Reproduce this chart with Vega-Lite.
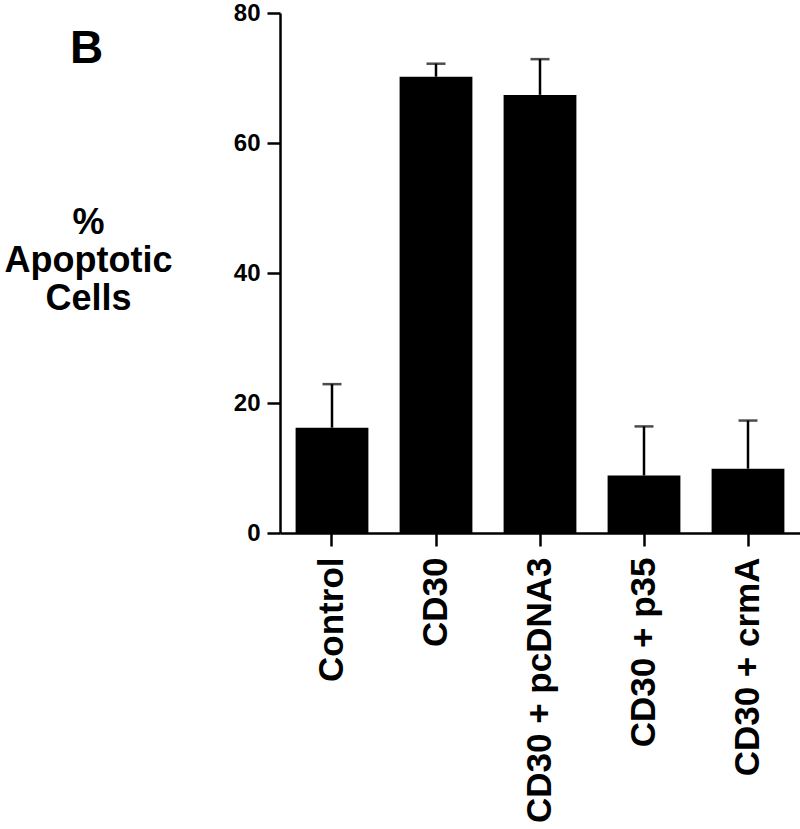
{
  "$schema": "https://vega.github.io/schema/vega-lite/v6.json",
  "autosize": "none",
  "padding": {"left": 280, "top": 13, "right": 0, "bottom": 296},
  "width": 520,
  "height": 520,
  "background": "white",
  "config": {"view": {"stroke": null}, "font": "Liberation Sans"},
  "title": {"text": "B", "anchor": "start", "frame": "group", "fontSize": 46, "font": "Liberation Sans", "fontWeight": "bold", "color": "black", "dx": -210, "dy": 108, "baseline": "alphabetic", "offset": 0},
  "data": {"values": [
    {"group": "Control", "pct": 16.2, "upper": 22.9},
    {"group": "CD30", "pct": 70.2, "upper": 72.2},
    {"group": "CD30 + pcDNA3", "pct": 67.4, "upper": 72.9},
    {"group": "CD30 + p35", "pct": 8.85, "upper": 16.4},
    {"group": "CD30 + crmA", "pct": 9.9, "upper": 17.3}
  ]},
  "encoding": {
    "x": {"field": "group", "type": "nominal", "sort": null,
      "scale": {"paddingInner": 0.3, "paddingOuter": 0.15},
      "axis": {"title": null, "labelAngle": -90, "labelAlign": "right", "labelBaseline": "middle", "labelLimit": 0,
        "labelFont": "Liberation Sans", "labelFontWeight": "bold", "labelFontSize": 35, "labelColor": "black",
        "labelPadding": 11, "tickSize": 13, "tickWidth": 2.5, "tickColor": "black",
        "domainColor": "black", "domainWidth": 2.5}}
  },
  "layer": [
    {"mark": {"type": "bar", "color": "black"},
     "encoding": {"y": {"field": "pct", "type": "quantitative",
        "scale": {"domain": [0, 80], "nice": false},
        "axis": {"values": [0, 20, 40, 60, 80], "grid": false,
          "title": ["%", "Apoptotic", "Cells"], "titleAngle": 0, "titleAlign": "center", "titleBaseline": "alphabetic",
          "titleX": -192, "titleY": 220, "titleLineHeight": 38,
          "titleFont": "Liberation Sans", "titleFontWeight": "bold", "titleFontSize": 36, "titleColor": "black",
          "labelFont": "Liberation Sans", "labelFontWeight": "bold", "labelFontSize": 24, "labelColor": "black",
          "labelPadding": 7, "tickSize": 13, "tickWidth": 2.5, "tickColor": "black",
          "domainColor": "black", "domainWidth": 2.5}}}},
    {"mark": {"type": "rule", "color": "black", "strokeWidth": 2.5},
     "encoding": {"y": {"field": "pct", "type": "quantitative"}, "y2": {"field": "upper"}}},
    {"mark": {"type": "tick", "color": "black", "size": 19, "thickness": 2.5, "orient": "horizontal"},
     "encoding": {"y": {"field": "upper", "type": "quantitative"}}}
  ]
}
